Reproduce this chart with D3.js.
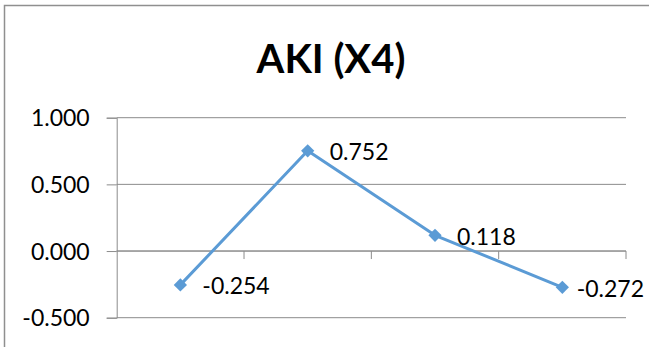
<!DOCTYPE html>
<html>
<head>
<meta charset="utf-8">
<script src="https://cdn.jsdelivr.net/npm/d3@7"></script>
<style>
  body { margin: 0; background: #fff; }
  svg { display: block; }
  .tick text { font-family: Lato, "Open Sans", sans-serif; }
</style>
</head>
<body>
<script>
// chart values
const categories = ["1", "2", "3", "4"];
const values = [-0.254, 0.752, 0.118, -0.272];
const yTicks = [-0.5, 0, 0.5, 1];
const title = "AKI (X4)";

const width = 649, height = 347;
const plot = { left: 116.7, right: 626, top: 117.7, bottom: 317.7 };
const blue = "#5B9BD5", grid = "#8C8C8C";

const fmt = d3.formatLocale({ decimal: ".", thousands: ",", grouping: [3], currency: ["", ""], minus: "-" }).format(".3f");

let svg = d3.select("body").append("svg")
    .attr("width", width)
    .attr("height", height);

// chart border
svg.append("rect")
    .attr("x", 4.5).attr("y", 5.5)
    .attr("width", width + 10).attr("height", height + 10)
    .attr("fill", "#fff")
    .attr("stroke", "#8f8f8f")
    .attr("stroke-width", 1.5);

let x = d3.scaleBand().domain(categories).range([plot.left, plot.right]);
let y = d3.scaleLinear().domain([-0.5, 1]).range([plot.bottom, plot.top]);

// horizontal gridlines
svg.append("g").selectAll("line")
    .data(yTicks)
    .enter().append("line")
    .attr("x1", plot.left).attr("x2", plot.right)
    .attr("y1", d => y(d)).attr("y2", d => y(d))
    .attr("stroke", grid).attr("stroke-width", 1);

// y axis
let yAxis = svg.append("g")
    .attr("transform", "translate(" + plot.left + ",0)")
    .call(d3.axisLeft(y).tickValues(yTicks).tickFormat(fmt).tickSize(10).tickPadding(17));
yAxis.select(".domain").attr("stroke", grid);
yAxis.selectAll(".tick line").attr("stroke", grid);
yAxis.selectAll(".tick text")
    .attr("fill", "#000")
    .attr("font-size", 23)
    .attr("dy", "0.36em");

// x axis at zero, ticks between categories, no labels
let xAxis = svg.append("g")
    .attr("transform", "translate(0," + y(0) + ")");
xAxis.append("line")
    .attr("x1", plot.left).attr("x2", plot.right)
    .attr("stroke", grid);
xAxis.selectAll(".xt")
    .data(categories)
    .enter().append("line")
    .attr("class", "xt")
    .attr("x1", d => x(d) + x.bandwidth()).attr("x2", d => x(d) + x.bandwidth())
    .attr("y1", 0).attr("y2", 8)
    .attr("stroke", grid);

const cx = (d, i) => x(categories[i]) + x.bandwidth() / 2;

// series line
let line = d3.line()
    .x((d, i) => cx(d, i))
    .y(d => y(d));
svg.append("path")
    .datum(values)
    .attr("d", line)
    .attr("fill", "none")
    .attr("stroke", blue)
    .attr("stroke-width", 3)
    .attr("stroke-linejoin", "round");

// diamond markers
let diamond = d3.symbol().type(d3.symbolSquare).size(88);
svg.append("g").selectAll("path")
    .data(values)
    .enter().append("path")
    .attr("d", diamond)
    .attr("fill", blue)
    .attr("transform", (d, i) => "translate(" + cx(d, i) + "," + y(d) + ") rotate(45)");

// data labels, to the right of each point (kept inside the chart)
svg.append("g").selectAll("text")
    .data(values)
    .enter().append("text")
    .attr("x", (d, i) => cx(d, i) + 22)
    .attr("y", d => y(d))
    .attr("dy", "0.4em")
    .attr("font-family", "Lato, 'Open Sans', sans-serif")
    .attr("font-size", 23)
    .attr("fill", "#000")
    .text(d => fmt(d))
    .each(function() {
        let w = this.getComputedTextLength();
        let x0 = +this.getAttribute("x");
        if (x0 + w > width - 5) this.setAttribute("x", width - 5 - w);
    });

// title
svg.append("text")
    .attr("x", 331)
    .attr("y", 73)
    .attr("text-anchor", "middle")
    .attr("font-family", "Lato, 'Open Sans', sans-serif")
    .attr("font-weight", "bold")
    .attr("font-size", 40)
    .attr("fill", "#000")
    .text(title);
</script>
</body>
</html>
